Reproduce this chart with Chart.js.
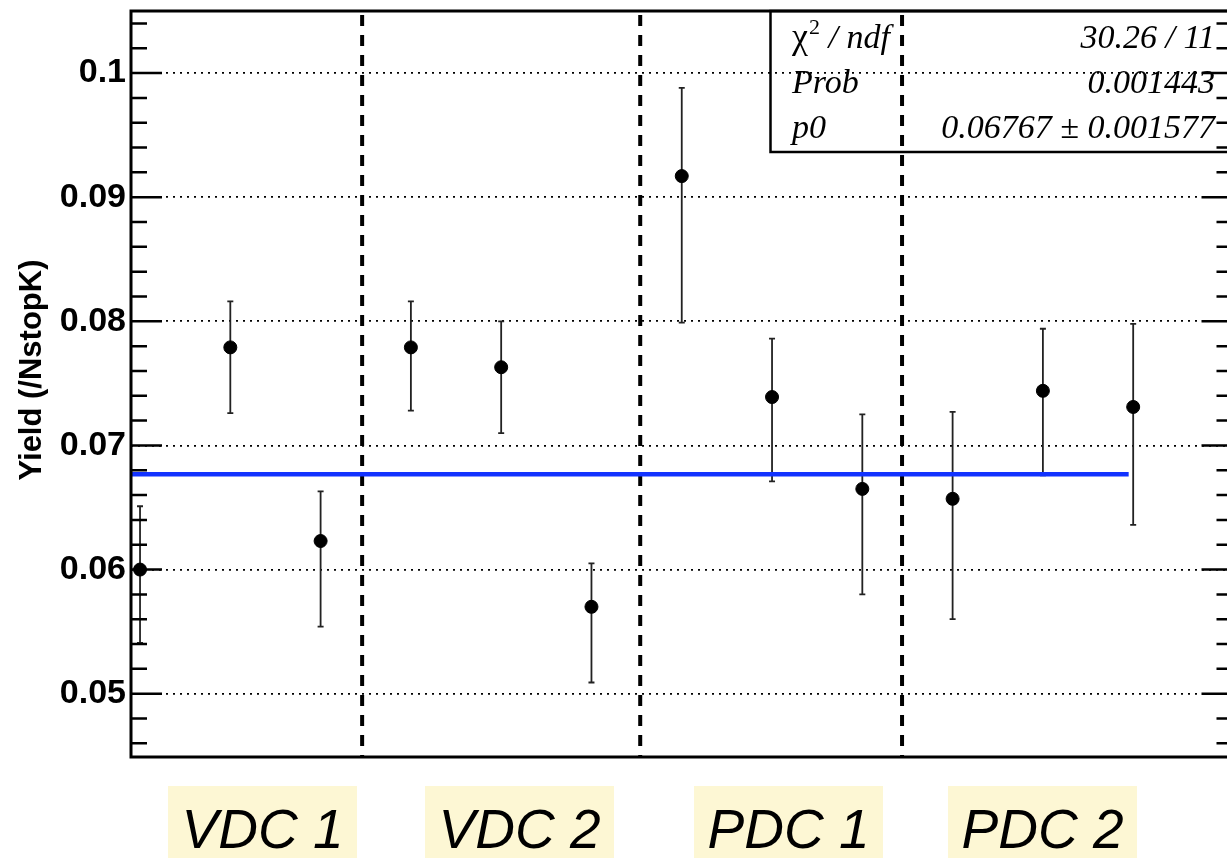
<!DOCTYPE html>
<html>
<head>
<meta charset="utf-8">
<script src="https://cdn.jsdelivr.net/npm/chart.js@4.4.1/dist/chart.umd.min.js"></script>
<style>
  html, body { margin: 0; padding: 0; background: #fff; overflow: hidden; }
  #wrap { width: 1240px; height: 859px; }
</style>
</head>
<body>
<div id="wrap"><canvas id="yieldChart" width="1240" height="859"></canvas></div>
<script>
// measurement index along x, one per point
const xs = [0, 1, 2, 3, 4, 5, 6, 7, 8, 9, 10, 11];
const yields = [0.0600, 0.0779, 0.0623, 0.0779, 0.0763, 0.0570, 0.0917, 0.0739, 0.0665, 0.0657, 0.0744, 0.0731];
const errHigh = [0.0651, 0.0816, 0.0663, 0.0816, 0.0800, 0.0605, 0.0988, 0.0786, 0.0725, 0.0727, 0.0794, 0.0798];
const errLow = [0.0541, 0.0726, 0.0554, 0.0728, 0.0710, 0.0509, 0.0799, 0.0671, 0.0580, 0.0560, 0.0676, 0.0636];

// constant fit
const fitP0 = 0.06767;
const fitRange = [-0.1, 10.95];

// group dividers (x units) and group names
const dividers = [2.46, 5.54, 8.44];
const groupNames = ['VDC 1', 'VDC 2', 'PDC 1', 'PDC 2'];

const yTickValues = [0.05, 0.06, 0.07, 0.08, 0.09, 0.1];
const yTickLabels = ['0.05', '0.06', '0.07', '0.08', '0.09', '0.1'];

const statRows = [
    ['χ2 / ndf', '30.26 / 11'],
    ['Prob', '0.001443'],
    ['p0', '0.06767 ± 0.001577']
];

// layout of the group label boxes (pixels)
const groupBoxLeft = [168, 425, 694, 948];
const groupBoxWidth = 189;

const points = xs.map((x, i) => ({ x: x, y: yields[i] }));

const errorBars = {
    id: 'errorBars',
    beforeDatasetsDraw(chart) {
        const ctx = chart.ctx;
        const xScale = chart.scales.x, yScale = chart.scales.y;
        const area = chart.chartArea;
        ctx.save();
        // dashed group dividers
        ctx.strokeStyle = '#000';
        ctx.lineWidth = 4;
        ctx.setLineDash([11, 9]);
        dividers.forEach(d => {
            const px = xScale.getPixelForValue(d);
            ctx.beginPath();
            ctx.moveTo(px, area.top + 4);
            ctx.lineTo(px, area.bottom);
            ctx.stroke();
        });
        ctx.setLineDash([]);
        // error bars
        ctx.strokeStyle = '#222';
        ctx.lineWidth = 1.8;
        xs.forEach((x, i) => {
            const px = xScale.getPixelForValue(x);
            const top = yScale.getPixelForValue(errHigh[i]);
            const bot = yScale.getPixelForValue(errLow[i]);
            ctx.beginPath();
            ctx.moveTo(px, top);
            ctx.lineTo(px, bot);
            ctx.moveTo(px - 3, top);
            ctx.lineTo(px + 3, top);
            ctx.moveTo(px - 3, bot);
            ctx.lineTo(px + 3, bot);
            ctx.stroke();
        });
        ctx.restore();
    }
};

const frameAndLabels = {
    id: 'frameAndLabels',
    afterDraw(chart) {
        const ctx = chart.ctx;
        const yScale = chart.scales.y;
        const area = chart.chartArea;
        ctx.save();

        // inward ticks, both sides
        ctx.strokeStyle = '#000';
        ctx.lineWidth = 2.5;
        for (let k = 23; k <= 52; k++) {
            const v = k * 0.002;
            if (v < yScale.min || v > yScale.max) continue;
            const py = yScale.getPixelForValue(v);
            const len = (k % 5 === 0) ? 31 : 16;
            ctx.beginPath();
            ctx.moveTo(area.left, py);
            ctx.lineTo(area.left + len, py);
            ctx.moveTo(area.right, py);
            ctx.lineTo(area.right - len, py);
            ctx.stroke();
        }

        // frame
        ctx.lineWidth = 3;
        ctx.strokeRect(area.left, area.top, area.right - area.left, area.bottom - area.top);

        // fit statistics box
        const boxL = 770.5, boxB = 152;
        ctx.lineWidth = 2.5;
        ctx.strokeRect(boxL, area.top, area.right - boxL, boxB - area.top);
        const baselines = [48, 93, 138];
        ctx.fillStyle = '#000';
        ctx.textBaseline = 'alphabetic';
        statRows.forEach((row, i) => {
            const by = baselines[i];
            ctx.textAlign = 'left';
            if (i === 0) {
                ctx.font = '36px "Liberation Serif"';
                ctx.fillText('χ', 792, by);
                let w = ctx.measureText('χ').width;
                ctx.font = '22px "Liberation Serif"';
                ctx.fillText('2', 792 + w + 1, by - 14);
                const w2 = ctx.measureText('2').width;
                ctx.font = 'italic 34px "Liberation Serif"';
                ctx.fillText(' / ndf', 792 + w + w2 + 1, by);
            } else {
                ctx.font = 'italic 34px "Liberation Serif"';
                ctx.fillText(row[0], 792, by);
            }
            ctx.font = 'italic 34px "Liberation Serif"';
            ctx.textAlign = 'right';
            ctx.fillText(row[1], 1215, by);
        });

        // y axis title
        ctx.save();
        ctx.translate(32, 370);
        ctx.rotate(-Math.PI / 2);
        ctx.font = 'bold 31px "Liberation Sans"';
        ctx.textAlign = 'center';
        ctx.textBaseline = 'middle';
        ctx.fillText('Yield (/NstopK)', 0, 0);
        ctx.restore();

        // group labels on yellow boxes
        groupNames.forEach((name, i) => {
            const left = groupBoxLeft[i];
            ctx.fillStyle = '#fdf7d4';
            ctx.fillRect(left, 786, groupBoxWidth, 72);
            ctx.fillStyle = '#000';
            ctx.font = 'italic 55px "Liberation Sans"';
            ctx.textAlign = 'center';
            ctx.textBaseline = 'alphabetic';
            ctx.fillText(name, left + groupBoxWidth / 2, 848);
        });

        ctx.restore();
    }
};

const ctx = document.getElementById('yieldChart').getContext('2d');

new Chart(ctx, {
    type: 'scatter',
    data: {
        datasets: [
            {
                label: 'Yield',
                data: points,
                backgroundColor: '#000',
                borderColor: '#000',
                pointRadius: 6.5,
                pointHoverRadius: 6.5
            },
            {
                type: 'line',
                label: 'Fit',
                data: [{ x: fitRange[0], y: fitP0 }, { x: fitRange[1], y: fitP0 }],
                borderColor: '#1232ff',
                borderWidth: 4.5,
                pointRadius: 0,
                fill: false
            }
        ]
    },
    options: {
        responsive: false,
        animation: false,
        devicePixelRatio: 1,
        layout: { padding: { left: 0, top: 11, right: 3, bottom: 102 } },
        plugins: {
            legend: { display: false },
            tooltip: { enabled: false }
        },
        scales: {
            x: {
                type: 'linear',
                min: -0.1,
                max: 12.1,
                display: false
            },
            y: {
                type: 'linear',
                min: 0.0449,
                max: 0.105,
                afterFit(scale) {
                    scale.width = 131;
                    scale.paddingTop = 0;
                    scale.paddingBottom = 0;
                },
                afterBuildTicks(scale) {
                    scale.ticks = yTickValues.map(v => ({ value: v }));
                },
                ticks: {
                    padding: 5,
                    color: '#000',
                    font: { family: 'Liberation Sans', size: 34, weight: 'bold' },
                    callback: (v) => {
                        const i = yTickValues.findIndex(t => Math.abs(t - v) < 1e-9);
                        return i >= 0 ? yTickLabels[i] : '';
                    }
                },
                grid: {
                    color: '#000',
                    lineWidth: 1.8,
                    drawTicks: false
                },
                border: { display: false, dash: [2, 5] }
            }
        }
    },
    plugins: [errorBars, frameAndLabels]
});
</script>
</body>
</html>
